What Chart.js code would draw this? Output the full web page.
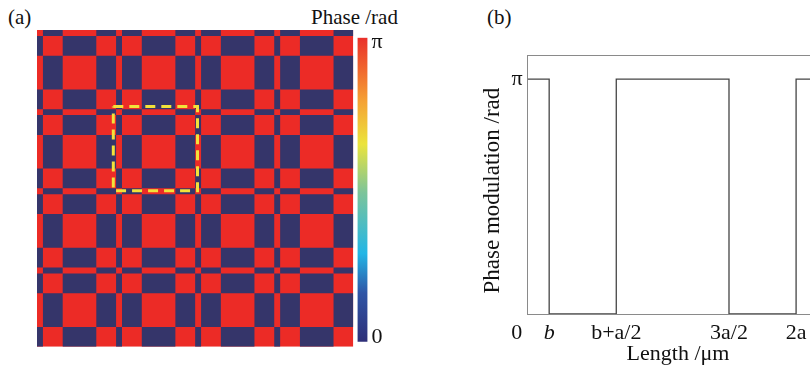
<!DOCTYPE html>
<html>
<head>
<meta charset="utf-8">
<script src="https://cdn.jsdelivr.net/npm/chart.js@4.4.1/dist/chart.umd.min.js"></script>
<style>
html, body { margin: 0; padding: 0; background: #fff; }
#page { position: relative; width: 810px; height: 369px; overflow: hidden; font-family: 'Liberation Serif', serif; }
canvas { position: absolute; top: 0; }
.lbl { position: absolute; font-size: 21px; line-height: 24px; color: #111; white-space: nowrap; }
</style>
</head>
<body>
<div id="page">
  <div class="lbl" style="left:8px;top:5px">(a)</div>
  <div class="lbl" style="left:311px;top:5px">Phase /rad</div>
  <div class="lbl" style="left:487px;top:5px">(b)</div>
  <canvas id="map" style="left:0" width="355" height="369"></canvas>
  <canvas id="bar" style="left:350px" width="60" height="369"></canvas>
  <canvas id="step" style="left:470px" width="362" height="369"></canvas>
</div>
<script>
'use strict';

// (a) phase map: stripe edges in units of a (same for rows and columns)
var stripeEdges = [0, 0.15, 0.65, 1.5, 2, 2.15, 2.65, 3.5, 4, 4.15, 4.65, 5.5, 6, 6.15, 6.65, 7.5, 8];
var stripePhase = [1, 0, 1, 0, 1, 0, 1, 0, 1, 0, 1, 0, 1, 0, 1, 0];   // 1 = pi
var boxRange    = [1.93, 4.06];                                       // dashed yellow frame

// colour bar
var barRange  = [-0.053, Math.PI + 0.053];
var barStops  = [0, 0.16, 0.29, 0.49, 0.65, 0.79, 0.9, 1];
var barColors = ['#2e2f78', '#2f55a6', '#22b6e6', '#7cc49a', '#ebe43c', '#f5a234', '#f0642e', '#e9302a'];

// (b) phase modulation profile, x in units of a
var stepX      = [0, 0.16, 0.66, 1.5, 2, 2.24];
var stepPhase  = [Math.PI, 0, Math.PI, 0, Math.PI, Math.PI];
var xTicks     = [0, 0.16, 0.66, 1.5, 2];
var xTickLabels = ['0    ', 'b', 'b+a/2', '3a/2', '2a'];

var RED  = '#ec2b26';
var NAVY = '#35356a';
var FONT = '"Liberation Serif", "Times New Roman", serif';

Chart.defaults.font.family = FONT;
Chart.defaults.color = '#111';

function serif(size, style) {
    return { family: FONT, size: size, style: style || 'normal' };
}

function rect(x0, x1, y0, y1) {
    return [{x: x0, y: y0}, {x: x1, y: y0}, {x: x1, y: y1}, {x: x0, y: y1}, {x: x0, y: y0}];
}

var mapSets = [];
mapSets.push({ data: rect(0, 8, 0, 8), backgroundColor: RED, order: 3 });
for (var i = 0; i < stripePhase.length; i++) {
    for (var j = 0; j < stripePhase.length; j++) {
        if (stripePhase[i] === stripePhase[j]) continue;
        mapSets.push({
            data: rect(stripeEdges[j], stripeEdges[j + 1], stripeEdges[i], stripeEdges[i + 1]),
            backgroundColor: NAVY,
            order: 2
        });
    }
}
mapSets.push({
    data: rect(boxRange[0], boxRange[1], boxRange[0], boxRange[1]),
    fill: false,
    borderColor: '#f2e23a',
    borderWidth: 3,
    borderDash: [10, 6],
    order: 0
});
mapSets.forEach(function (ds) {
    if (ds.fill === undefined) {
        ds.fill = 'shape';
        ds.borderColor = 'rgba(0,0,0,0)';
        ds.borderWidth = 0;
    }
    ds.showLine = true;
    ds.pointRadius = 0;
});

new Chart(document.getElementById('map'), {
    type: 'scatter',
    data: { datasets: mapSets },
    options: {
        responsive: false,
        animation: false,
        devicePixelRatio: 1,
        layout: { padding: { left: 37, top: 30, right: 1.7, bottom: 22.3 } },
        plugins: { legend: { display: false }, tooltip: { enabled: false } },
        scales: {
            x: { type: 'linear', min: 0, max: 8, display: false },
            y: { type: 'linear', min: 0, max: 8, reverse: true, display: false }
        }
    }
});

new Chart(document.getElementById('bar'), {
    type: 'bar',
    data: {
        labels: [''],
        datasets: [{
            data: [barRange],
            barPercentage: 1,
            categoryPercentage: 1,
            backgroundColor: function (ctx) {
                var area = ctx.chart.chartArea;
                if (!area) return NAVY;
                var g = ctx.chart.ctx.createLinearGradient(0, area.bottom, 0, area.top);
                barStops.forEach(function (s, k) { g.addColorStop(s, barColors[k]); });
                return g;
            }
        }]
    },
    options: {
        responsive: false,
        animation: false,
        devicePixelRatio: 1,
        layout: { padding: { left: 7.5, top: 37.7, bottom: 27.3 } },
        plugins: { legend: { display: false }, tooltip: { enabled: false } },
        scales: {
            x: { display: false },
            y: {
                position: 'right',
                min: barRange[0],
                max: barRange[1],
                grid: { display: false, drawTicks: false },
                border: { display: false },
                afterFit: function (scale) { scale.width = 42.5; },
                afterBuildTicks: function (scale) { scale.ticks = [{value: 0}, {value: Math.PI}]; },
                ticks: {
                    padding: 4,
                    font: serif(22),
                    callback: function (v) { return v === 0 ? '0' : '\u03c0'; }
                }
            }
        }
    }
});

var stepPoints = stepX.map(function (x, k) { return {x: x, y: stepPhase[k]}; });

new Chart(document.getElementById('step'), {
    type: 'scatter',
    data: {
        datasets: [{
            data: stepPoints,
            showLine: true,
            stepped: true,
            borderColor: '#444',
            borderWidth: 1.3,
            pointRadius: 0
        }]
    },
    options: {
        responsive: false,
        animation: false,
        devicePixelRatio: 1,
        layout: { padding: { top: 55.7, right: 3.7 } },
        plugins: { legend: { display: false }, tooltip: { enabled: false } },
        scales: {
            x: {
                type: 'linear',
                min: 0,
                max: 2.24,
                grid: { display: false, drawTicks: false },
                border: { display: true, color: '#8a8a8a', width: 1 },
                afterFit: function (scale) { scale.height = 55; },
                afterBuildTicks: function (scale) {
                    scale.ticks = xTicks.map(function (v) { return {value: v}; });
                },
                ticks: {
                    padding: 6,
                    maxRotation: 0,
                    autoSkip: false,
                    font: function (ctx) {
                        return serif(22, ctx.index === 1 ? 'italic' : 'normal');
                    },
                    callback: function (v, idx) { return xTickLabels[idx]; }
                },
                title: {
                    display: true,
                    text: 'Length /\u03bcm',
                    font: serif(22),
                    padding: { top: 0, bottom: 2 }
                }
            },
            x2: {
                type: 'linear',
                position: 'top',
                min: 0,
                max: 2.24,
                grid: { display: false, drawTicks: false },
                ticks: { display: false },
                border: { display: true, color: '#8a8a8a', width: 1 },
                afterFit: function (scale) { scale.height = 0; }
            },
            y: {
                type: 'linear',
                min: 0,
                max: 1.1 * Math.PI,
                grid: { display: false, drawTicks: false },
                border: { display: true, color: '#8a8a8a', width: 1 },
                afterFit: function (scale) { scale.width = 57.7; },
                afterBuildTicks: function (scale) { scale.ticks = [{value: Math.PI}]; },
                ticks: {
                    padding: 5,
                    font: serif(22),
                    callback: function () { return '\u03c0'; }
                },
                title: {
                    display: true,
                    text: 'Phase modulation /rad  ',
                    font: serif(23),
                    padding: { top: 9, bottom: 0 }
                }
            }
        }
    }
});
</script>
</body>
</html>
